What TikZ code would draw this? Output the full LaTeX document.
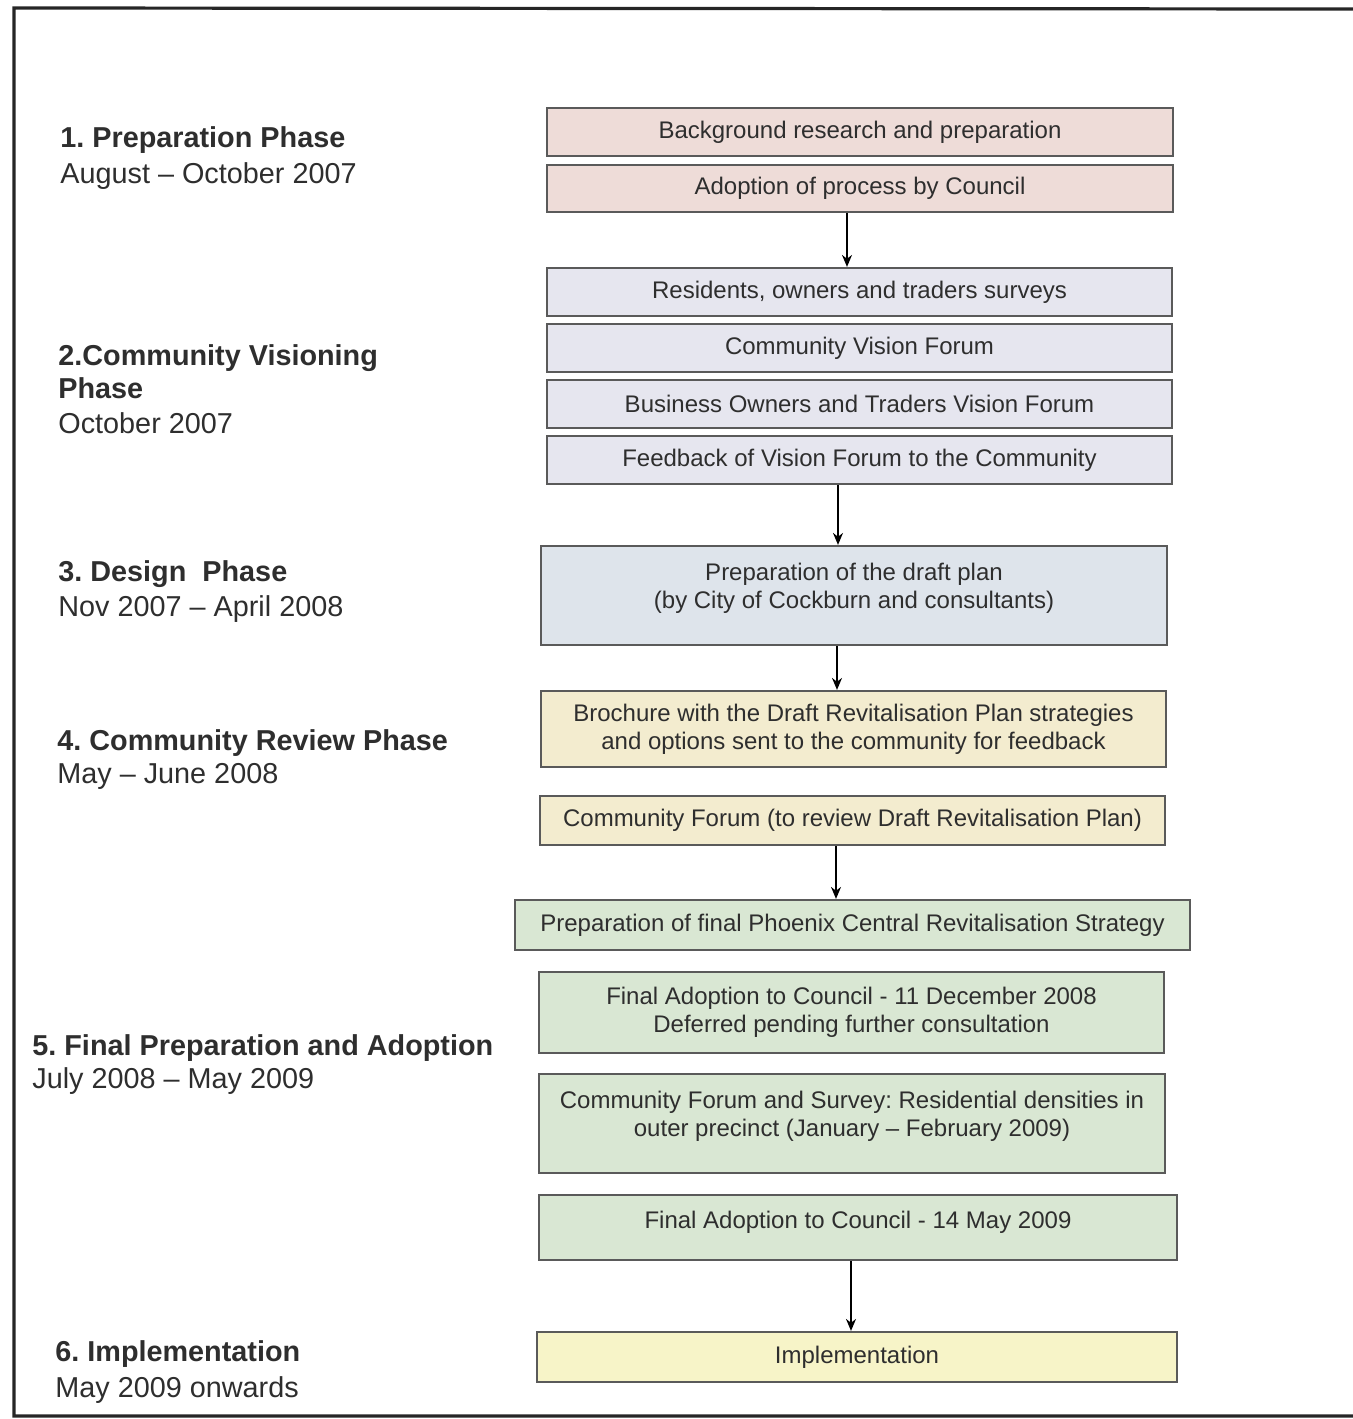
\documentclass[tikz,border=0pt]{standalone}
\usepackage{fontspec}
\setmainfont{Liberation Sans}
\usetikzlibrary{arrows.meta}
\frenchspacing
\definecolor{cpink}{HTML}{EEDCD8}
\definecolor{clav}{HTML}{E6E6EF}
\definecolor{cblue}{HTML}{DEE4EB}
\definecolor{cbeige}{HTML}{F3ECCF}
\definecolor{cgreen}{HTML}{D9E7D3}
\definecolor{cyel}{HTML}{F7F4C8}
\definecolor{cedge}{HTML}{5A5A5A}
\definecolor{ctext}{HTML}{2E2E2E}
\newcommand{\boxat}[7]{%
  \node[stagebox,fill=#2,minimum width={(#5-#3)*0.5pt},minimum height={(#6-#4)*0.5pt}]
    (#1) at ({(#3+#5)/2},{(#4+#6)/2}) {#7};}
\begin{document}
\begin{tikzpicture}[x=0.5pt,y=-0.5pt,
  stagebox/.style={draw=cedge,line width=1.1pt,rectangle,inner sep=0pt,align=center,
    text=ctext,font=\fontsize{12pt}{14pt}\selectfont},
  boxtext/.style={align=center,text=ctext,inner sep=0pt,font=\fontsize{12pt}{14pt}\selectfont},
  phasehead/.style={anchor=base west,inner sep=0pt,text=ctext,font=\fontsize{14.4pt}{18pt}\selectfont\bfseries},
  phasedate/.style={anchor=base west,inner sep=0pt,text=ctext,font=\fontsize{14.4pt}{18pt}\selectfont},
  arr/.style={line width=0.8pt,draw=black,-{Stealth[length=6pt,width=5pt]}},
  frameline/.style={line width=1.6pt,draw=black!85}]
\useasboundingbox (0,0) rectangle (1353,1419);
% frame
\draw[frameline] (1353,9) -- (14,8) -- (14,1416) -- (1353,1416);
% boxes
\boxat{b1}{cpink}{547}{108}{1173}{156}{Background research and preparation}
\boxat{b2}{cpink}{547}{165}{1173}{212}{Adoption of process by Council}
\boxat{b3}{clav}{547}{268}{1172}{316}{Residents, owners and traders surveys}
\boxat{b4}{clav}{547}{324}{1172}{372}{Community Vision Forum}
\boxat{b5}{clav}{547}{380}{1172}{428}{Business Owners and Traders Vision Forum}
\boxat{b6}{clav}{547}{436}{1172}{484}{Feedback of Vision Forum to the Community}
\boxat{b7}{cblue}{541}{546}{1167}{645}{}
\node[boxtext] (t7) at (854,588) {Preparation of the draft plan\\(by City of Cockburn and consultants)};
\boxat{b8}{cbeige}{541}{691}{1166}{767}{Brochure with the Draft Revitalisation Plan strategies\\and options sent to the community for feedback}
\boxat{b9}{cbeige}{540}{796}{1165}{845}{Community Forum (to review Draft Revitalisation Plan)}
\boxat{b10}{cgreen}{515}{900}{1190}{950}{Preparation of final Phoenix Central Revitalisation Strategy}
\boxat{b11}{cgreen}{539}{972}{1164}{1053}{Final Adoption to Council - 11 December 2008\\Deferred pending further consultation}
\boxat{b12}{cgreen}{539}{1074}{1165}{1173}{}
\node[boxtext] (t12) at (852,1116) {Community Forum and Survey: Residential densities in\\outer precinct (January -- February 2009)};
\boxat{b13}{cgreen}{539}{1195}{1177}{1260}{}
\node[boxtext] (t13) at (858,1222) {Final Adoption to Council - 14 May 2009};
\boxat{b14}{cyel}{537}{1332}{1177}{1382}{Implementation}
% arrows
\coordinate (xa) at (847,0);
\coordinate (xb) at (838,0);
\coordinate (xc) at (837,0);
\coordinate (xd) at (836,0);
\coordinate (xe) at (851,0);
\draw[arr] (b2.south -| xa) -- (b3.north -| xa);
\draw[arr] (b6.south -| xb) -- (b7.north -| xb);
\draw[arr] (b7.south -| xc) -- (b8.north -| xc);
\draw[arr] (b9.south -| xd) -- (b10.north -| xd);
\draw[arr] (b13.south -| xe) -- (b14.north -| xe);
% phase labels
\node[phasehead] (p1) at (60,147) {1. Preparation Phase};
\node[phasedate] (d1) at (60,183) {August -- October 2007};
\node[phasehead] (p2) at (58,365) {2.Community Visioning};
\node[phasehead] (p2b) at (58,398) {Phase};
\node[phasedate] (d2) at (58,433) {October 2007};
\node[phasehead] (p3) at (58,581) {3. Design\ \ Phase};
\node[phasedate] (d3) at (58,616) {Nov 2007 -- April 2008};
\node[phasehead] (p4) at (57,750) {4. Community Review Phase};
\node[phasedate] (d4) at (57,783) {May -- June 2008};
\node[phasehead] (p5) at (32,1055) {5. Final Preparation and Adoption};
\node[phasedate] (d5) at (32,1088) {July 2008 -- May 2009};
\node[phasehead] (p6) at (55,1361) {6. Implementation};
\node[phasedate] (d6) at (55,1397) {May 2009 onwards};
\end{tikzpicture}
\end{document}
